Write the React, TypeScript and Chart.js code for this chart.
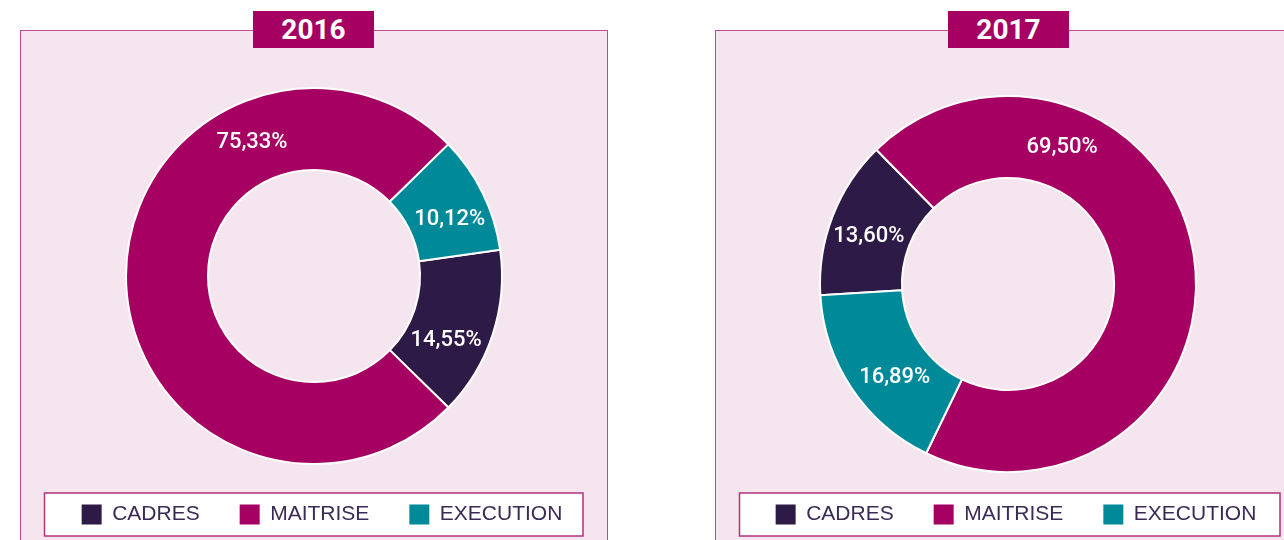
import React, { useEffect, useRef } from "react";
import { Chart, registerables } from "chart.js";

Chart.register(...registerables);

const CATEGORIES = ["CADRES", "MAITRISE", "EXECUTION"];
const YEARS = ["2016", "2017"];
const VALUES_2016 = [14.55, 75.33, 10.12];
const VALUES_2017 = [13.6, 69.5, 16.89];
const ROTATION_2016 = 82;
const ROTATION_2017 = 266.6;
// where along each arc its percentage label sits (0 = start, 1 = end)
const LABEL_ALONG_2016 = [0.65, 0.74, 0.6];
const LABEL_ALONG_2017 = [0.455, 0.264, 0.405];

const SEG_COLORS = ["#2E1A46", "#A50062", "#008A99"];
const PANEL_BG = "#F5E5EF";
const PANEL_BORDER = "#C24C93";
const BADGE_BG = "#A50062";
const LEGEND_BORDER = "#B3317F";
const LEGEND_TEXT = "#3A2A55";

const fmt = (v: number) => v.toFixed(2).replace(".", ",") + "%";

function Donut(props: {
  values: number[];
  rotation: number;
  along: number[];
  width: number;
  height: number;
  padTop: number;
  padRight: number;
  legendTop: number;
}) {
  const ref = useRef<HTMLCanvasElement | null>(null);
  useEffect(() => {
    const canvas = ref.current;
    if (!canvas) return;
    const { values, rotation, along, padTop, padRight, legendTop, height } = props;
    const legendHeight = 21 + 40 + 10;
    const padBottom = height - legendHeight - padTop - 378;
    const boxTop = 463;
    const boxBottom = 506;

    const placeLegend = {
      id: "placeLegend",
      afterLayout(chart: any) {
        const lg = chart.legend;
        if (!lg) return;
        const h = lg.height;
        lg.top = legendTop;
        lg.bottom = legendTop + h;
        lg.left += 8;
        lg.right += 8;
      },
      beforeDraw(chart: any) {
        const ctx = chart.ctx;
        ctx.save();
        const x0 = 24.5;
        const x1 = chart.width - 25;
        ctx.fillStyle = "#FFFFFF";
        ctx.fillRect(x0, boxTop, x1 - x0, boxBottom - boxTop);
        ctx.strokeStyle = LEGEND_BORDER;
        ctx.lineWidth = 1.5;
        ctx.strokeRect(x0, boxTop, x1 - x0, boxBottom - boxTop);
        ctx.restore();
      },
    };

    const arcLabels = {
      id: "arcLabels",
      afterDatasetsDraw(chart: any) {
        const ctx = chart.ctx;
        const meta = chart.getDatasetMeta(0);
        const data = chart.data.datasets[0].data as number[];
        ctx.save();
        ctx.fillStyle = "#FFFFFF";
        ctx.font = "500 22px Roboto";
        ctx.textAlign = "center";
        ctx.textBaseline = "middle";
        meta.data.forEach((arc: any, i: number) => {
          const p = arc.getProps(["x", "y", "startAngle", "endAngle", "innerRadius", "outerRadius"], true);
          const a = p.startAngle + (p.endAngle - p.startAngle) * along[i];
          const r = (p.innerRadius + p.outerRadius) / 2;
          ctx.fillText(fmt(data[i]), p.x + Math.cos(a) * r, p.y + Math.sin(a) * r);
        });
        ctx.restore();
      },
    };

    const chart = new Chart(canvas, {
      type: "doughnut",
      data: {
        labels: CATEGORIES,
        datasets: [
          {
            data: values,
            backgroundColor: SEG_COLORS,
            borderColor: "#FFFFFF",
            borderWidth: 2,
            hoverBorderWidth: 2,
            hoverOffset: 0,
          },
        ],
      },
      options: {
        responsive: false,
        animation: false,
        rotation,
        cutout: "56.4%",
        layout: { padding: { top: padTop, bottom: padBottom, left: 0, right: padRight } },
        plugins: {
          tooltip: { enabled: false },
          title: { display: false },
          legend: {
            display: true,
            position: "bottom",
            labels: {
              boxWidth: 20,
              boxHeight: 20,
              padding: 40,
              color: LEGEND_TEXT,
              font: { family: "'Liberation Sans'", size: 21, weight: "normal" },
              generateLabels: (c: any) =>
                (Chart as any).overrides.doughnut.plugins.legend.labels
                  .generateLabels(c)
                  .map((l: any) => ({ ...l, lineWidth: 0, strokeStyle: "rgba(0,0,0,0)" })),
            },
          },
        },
      } as any,
      plugins: [placeLegend, arcLabels],
    });
    return () => chart.destroy();
  }, []);
  return (
    <canvas
      ref={ref}
      width={props.width}
      height={props.height}
      style={{ display: "block", width: props.width, height: props.height }}
    />
  );
}

function Panel(props: {
  left: number;
  width: number;
  badgeLeft: number;
  year: string;
  values: number[];
  rotation: number;
  along: number[];
  padTop: number;
  padRight: number;
}) {
  return (
    <>
      <div
        style={{
          position: "absolute",
          left: props.left,
          top: 29.5,
          width: props.width,
          height: 540,
          boxSizing: "border-box",
          background: PANEL_BG,
          border: `1.5px solid ${PANEL_BORDER}`,
        }}
      />
      <div style={{ position: "absolute", left: props.left, top: 30 }}>
        <Donut
          values={props.values}
          rotation={props.rotation}
          along={props.along}
          width={props.width}
          height={520}
          padTop={props.padTop}
          padRight={props.padRight}
          legendTop={434}
        />
      </div>
      <div
        style={{
          position: "absolute",
          left: props.badgeLeft,
          top: 11,
          width: 121,
          height: 37,
          background: BADGE_BG,
          color: "#FFFFFF",
          fontFamily: "Roboto",
          fontWeight: 700,
          fontSize: 28,
          display: "flex",
          alignItems: "center",
          justifyContent: "center",
          lineHeight: 1,
        }}
      >
        {props.year}
      </div>
    </>
  );
}

export default function App() {
  return (
    <div
      style={{
        position: "absolute",
        left: 0,
        top: 0,
        width: 1284,
        height: 540,
        overflow: "hidden",
        background: "#FFFFFF",
      }}
    >
      <Panel
        left={20}
        width={588}
        badgeLeft={253}
        year={YEARS[0]}
        values={VALUES_2016}
        rotation={ROTATION_2016}
        along={LABEL_ALONG_2016}
        padTop={57}
        padRight={0}
      />
      <Panel
        left={715}
        width={590}
        badgeLeft={948}
        year={YEARS[1]}
        values={VALUES_2017}
        rotation={ROTATION_2017}
        along={LABEL_ALONG_2017}
        padTop={65}
        padRight={4}
      />
    </div>
  );
}
